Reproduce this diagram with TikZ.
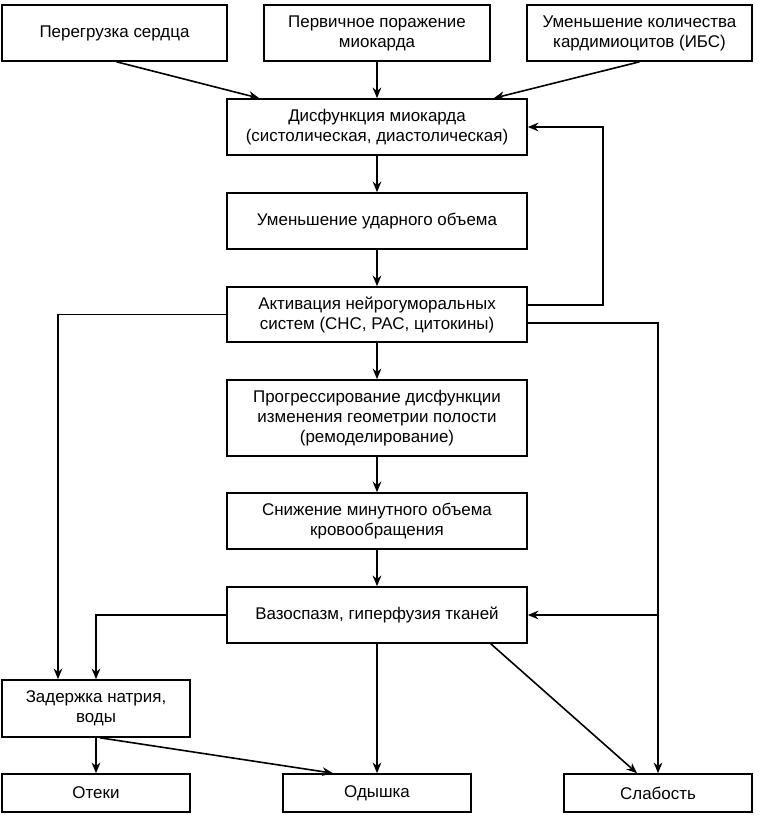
\documentclass[tikz,border=0pt]{standalone}
\usepackage{fontspec}
\setmainfont{Liberation Sans}
\usetikzlibrary{arrows.meta,calc}
\begin{document}
\begin{tikzpicture}[x=0.75pt,y=-0.75pt,
  box/.style={draw,line width=1.2pt,inner sep=0pt,align=center,
    font=\fontsize{12.7pt}{15pt}\selectfont,minimum height=42pt},
  wA/.style={minimum width=168.75pt},
  wB/.style={minimum width=225pt},
  wC/.style={minimum width=141pt},
  arr/.style={line width=1.2pt,-{Stealth[length=8pt,width=6.5pt]}},
  ln/.style={line width=1.2pt}]
\useasboundingbox (0,0) rectangle (760,815);
\node[box,wA] (b1) at (114.5,33) {Перегрузка сердца};
\node[box,wA,minimum width=169.5pt] (b2) at (377,33) {Первичное поражение\\миокарда};
\node[box,wA] (b3) at (639.5,33) {Уменьшение количества\\кардимиоцитов (ИБС)};
\node[box,wB] (b4) at (377,127) {Дисфункция миокарда\\(систолическая, диастолическая)};
\node[box,wB] (b5) at (377,221) {Уменьшение ударного объема};
\node[box,wB,minimum height=41.25pt] (b6) at (377,314.5) {Активация нейрогуморальных\\систем (СНС, РАС, цитокины)};
\node[box,wB,minimum height=57pt] (b7) at (377,418) {Прогрессирование дисфункции\\изменения геометрии полости\\(ремоделирование)};
\node[box,wB] (b8) at (377,521) {Снижение минутного объема\\кровообращения};
\node[box,wB] (b9) at (377,615) {Вазоспазм, гиперфузия тканей};
\node[box,wC,minimum height=42.75pt] (b10) at (96,708.5) {Задержка натрия,\\воды};
\node[box,wC,minimum height=28.5pt] (b11) at (96,793) {Отеки};
\node[box,wC,minimum height=28.5pt] (b12) at (377,793) {Одышка};
\node[box,wC,minimum height=28.5pt] (b13) at (658,793) {Слабость};
\coordinate (fb) at ($(b4.east)+(75,0)$);
\coordinate (l1) at ($(b10.north)+(-38,0)$);
\draw[arr] ($(b1.south)+(2,0)$) -- ($(b4.north west)+(33,0)$);
\draw[arr] (b2.south) -- (b4.north);
\draw[arr] (b3.south) -- ($(b4.north east)+(-34,0)$);
\draw[arr] (b4.south) -- (b5.north);
\draw[arr] (b5.south) -- (b6.north);
\draw[arr] (b6.south) -- (b7.north);
\draw[arr] (b7.south) -- (b8.north);
\draw[arr] (b8.south) -- (b9.north);
\draw[arr] ($(b6.east)+(0,-9.5)$) -| (fb) -- (b4.east);
\draw[arr] (b6.west) -| (l1);
\draw[arr] ($(b6.east)+(0,8.5)$) -| (b13.north);
\draw[arr] (b9.east -| b13.north) -- (b9.east);
\draw[arr] (b9.west) -| (b10.north);
\draw[arr] (b9.south) -- (b12.north);
\draw[arr] ($(b9.south east)+(-37,0)$) -- ($(b13.north)+(-21,0)$);
\draw[arr] (b10.south) -- (b11.north);
\draw[arr] ($(b10.south)+(4,0)$) -- ($(b12.north)+(-44,0)$);
\end{tikzpicture}
\end{document}
